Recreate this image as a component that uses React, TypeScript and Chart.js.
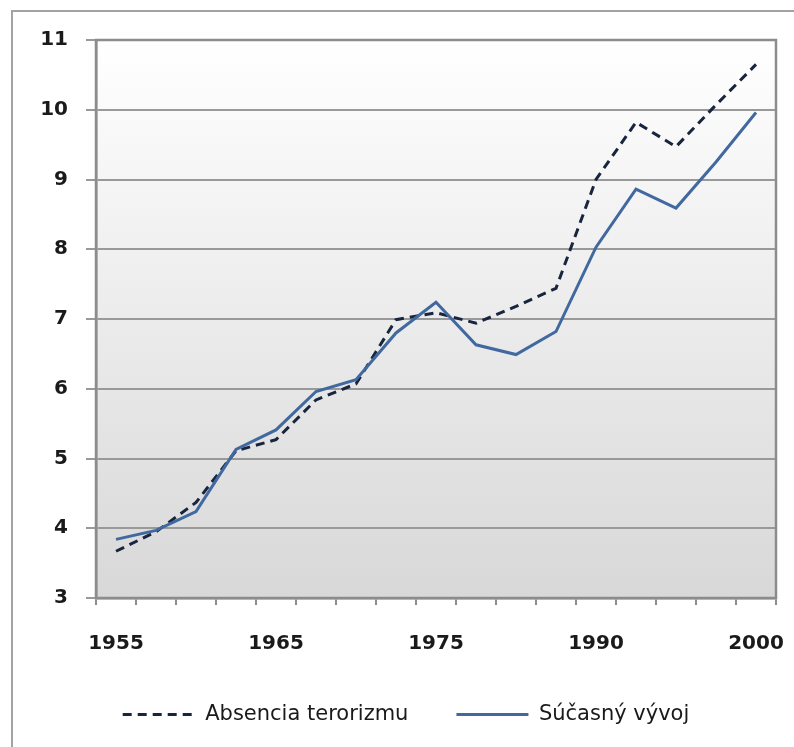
import React, { useEffect, useRef } from "react";
import { Chart, registerables } from "chart.js";

Chart.register(...registerables);

const categories = ["1955", "", "", "", "1965", "", "", "", "1975", "", "", "", "1990", "", "", "", "2000"];
const absenciaTerorizmu = [3.67, 3.95, 4.37, 5.11, 5.27, 5.84, 6.07, 6.99, 7.09, 6.94, 7.18, 7.44, 9.0, 9.82, 9.47, 10.07, 10.65];
const sucasnyVyvoj = [3.84, 3.97, 4.24, 5.13, 5.41, 5.96, 6.13, 6.8, 7.24, 6.63, 6.49, 6.82, 8.03, 8.86, 8.59, 9.25, 9.96];
const seriesNames = ["Absencia terorizmu", "Súčasný vývoj"];
const yMin = 3;
const yMax = 11;

const plotFrame = {
  id: "plotFrame",
  beforeDraw(chart: any) {
    const { ctx, chartArea } = chart;
    const { left, top, right, bottom } = chartArea;
    const g = ctx.createLinearGradient(0, top, 0, bottom);
    g.addColorStop(0, "#ffffff");
    g.addColorStop(1, "#d8d8d8");
    ctx.save();
    ctx.fillStyle = g;
    ctx.fillRect(left, top, right - left, bottom - top);
    ctx.restore();
  },
  beforeDatasetsDraw(chart: any) {
    const { ctx, chartArea } = chart;
    const { left, top, right, bottom } = chartArea;
    ctx.save();
    ctx.strokeStyle = "#8c8c8c";
    ctx.lineWidth = 2.5;
    ctx.strokeRect(left, top, right - left, bottom - top);
    ctx.restore();
  },
};

export default function App() {
  const ref = useRef<HTMLCanvasElement>(null);

  useEffect(() => {
    if (!ref.current) return;
    const LEFT_PAD = 36;
    const chart = new Chart(ref.current, {
      type: "line",
      data: {
        labels: categories,
        datasets: [
          {
            label: seriesNames[0],
            data: absenciaTerorizmu,
            borderColor: "#17253d",
            backgroundColor: "#17253d",
            borderWidth: 3,
            borderDash: [9, 6],
            pointRadius: 0,
            tension: 0,
            order: 1,
          },
          {
            label: seriesNames[1],
            data: sucasnyVyvoj,
            borderColor: "#4169a0",
            backgroundColor: "#4169a0",
            borderWidth: 3,
            pointRadius: 0,
            tension: 0,
            order: 0,
          },
        ],
      },
      options: {
        animation: false,
        responsive: false,
        devicePixelRatio: 1,
        layout: { padding: { left: LEFT_PAD, right: 18, top: 40, bottom: 12 } },
        plugins: {
          tooltip: { enabled: false },
          legend: {
            position: "bottom",
            labels: {
              usePointStyle: true,
              pointStyle: "line",
              pointStyleWidth: 72,
              padding: 48,
              color: "#1a1a1a",
              font: { family: "DejaVu Sans", size: 21 },
              sort: (a: any, b: any) => a.datasetIndex - b.datasetIndex,
              generateLabels: (chart: any) => {
                const base = (Chart as any).defaults.plugins.legend.labels.generateLabels(chart);
                return base.map((item: any) => {
                  const ds = chart.data.datasets[item.datasetIndex];
                  return {
                    ...item,
                    pointStyle: "line",
                    strokeStyle: ds.borderColor,
                    fillStyle: ds.borderColor,
                    lineWidth: ds.borderWidth,
                    lineDash: ds.borderDash || [],
                    lineCap: "butt",
                  };
                });
              },
            },
          },
        },
        scales: {
          x: {
            offset: true,
            afterFit: (scale: any) => {
              scale.height = 58;
            },
            grid: {
              offset: true,
              drawOnChartArea: false,
              drawTicks: true,
              tickLength: 7,
              color: "#8c8c8c",
              lineWidth: 2,
            },
            border: { display: true, color: "#8c8c8c", width: 2.5 },
            ticks: {
              autoSkip: false,
              maxRotation: 0,
              padding: 9,
              color: "#1a1a1a",
              font: { family: "DejaVu Sans", size: 20, weight: "bold", lineHeight: 3 },
            },
          },
          y: {
            min: yMin,
            max: yMax,
            afterFit: (scale: any) => {
              scale.width = 96 - LEFT_PAD;
            },
            grid: {
              drawTicks: true,
              tickLength: 10,
              color: "#999999",
              lineWidth: 2,
            },
            border: { display: true, color: "#8c8c8c", width: 2.5 },
            ticks: {
              stepSize: 1,
              padding: 18,
              color: "#1a1a1a",
              font: { family: "DejaVu Sans", size: 20, weight: "bold" },
            },
          },
        },
      },
      plugins: [plotFrame],
    } as any);
    return () => chart.destroy();
  }, []);

  return (
    <div
      style={{
        position: "absolute",
        left: 0,
        top: 0,
        width: 794,
        height: 747,
        overflow: "hidden",
        background: "#ffffff",
      }}
    >
      <div
        style={{
          position: "absolute",
          left: 11,
          top: 10,
          width: 900,
          height: 900,
          border: "2px solid #a3a3a3",
        }}
      />
      <canvas
        ref={ref}
        width={794}
        height={747}
        style={{ position: "absolute", left: 0, top: 0, width: 794, height: 747 }}
      />
    </div>
  );
}
